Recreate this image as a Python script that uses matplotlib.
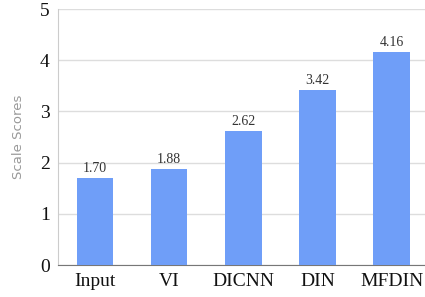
import matplotlib.pyplot as plt

methods = ["Input", "VI", "DICNN", "DIN", "MFDIN"]
scores = [1.70, 1.88, 2.62, 3.42, 4.16]
yticks = [0, 1, 2, 3, 4, 5]

fig = plt.figure(figsize=(4.25, 2.97), dpi=100)
ax = fig.add_axes([58 / 425, 32 / 297, 367 / 425, 256 / 297])

bars = ax.bar(methods, scores, width=0.49, color="#6f9ef8", zorder=3)
for b, v in zip(bars, scores):
    ax.text(b.get_x() + b.get_width() / 2, v + 0.06, f"{v:.2f}",
            ha="center", va="bottom", fontsize=10, family="Liberation Serif",
            color="#333333")

ax.set_xlim(-0.5, 4.45)
ax.set_ylim(0, 5)
ax.set_yticks(yticks)
ax.grid(axis="y", color="#dddddd", linewidth=1, zorder=0)
ax.tick_params(length=0, labelsize=14, pad=6)
for lab in ax.get_xticklabels() + ax.get_yticklabels():
    lab.set_family("Liberation Serif")
    lab.set_color("#111111")
ax.spines["top"].set_visible(False)
ax.spines["right"].set_visible(False)
ax.spines["left"].set_color("#cccccc")
ax.spines["bottom"].set_color("#777777")
ax.set_ylabel("Scale Scores", fontsize=9.5, color="#999999", family="DejaVu Sans", labelpad=11)

fig.savefig("out.png", dpi=100)
